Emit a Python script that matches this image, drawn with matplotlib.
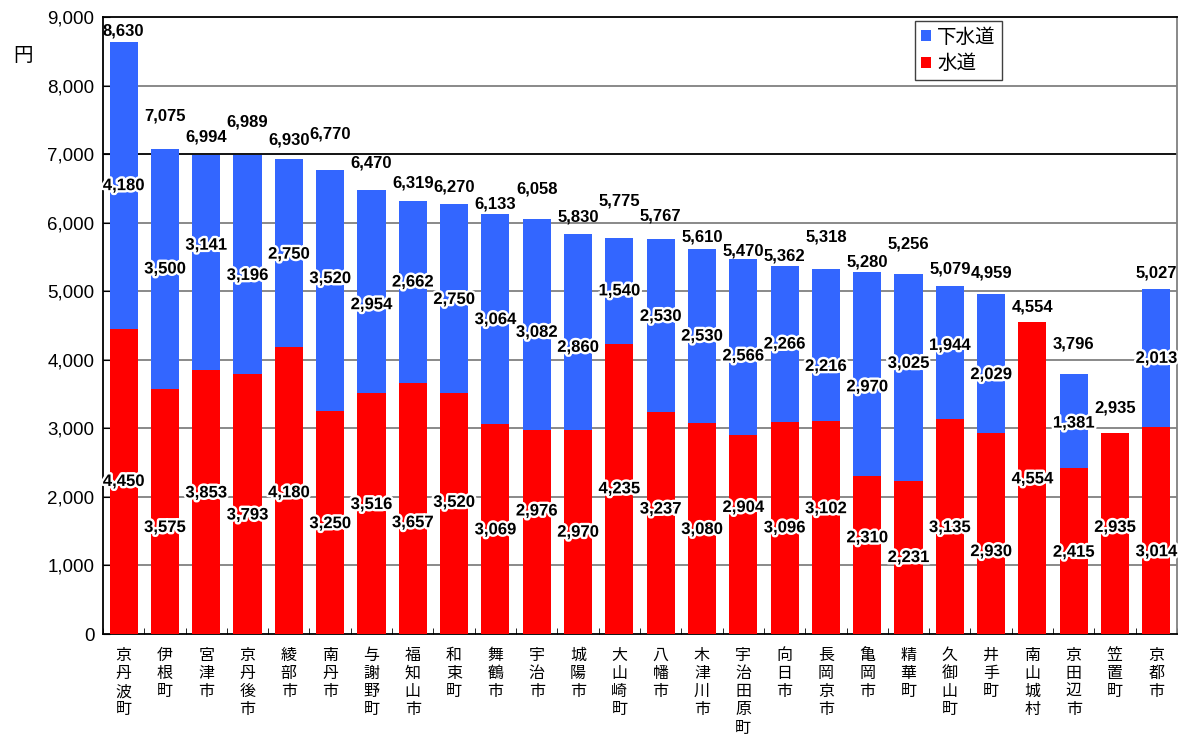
import matplotlib
matplotlib.use("Agg")
import matplotlib.pyplot as plt
import matplotlib.patheffects as pe
import numpy as np

plt.rcParams["font.family"] = ["Liberation Sans", "Noto Sans CJK JP"]

# 市町村名と料金（円）
towns = ["京丹波町", "伊根町", "宮津市", "京丹後市", "綾部市", "南丹市", "与謝野町",
         "福知山市", "和束町", "舞鶴市", "宇治市", "城陽市", "大山崎町", "八幡市",
         "木津川市", "宇治田原町", "向日市", "長岡京市", "亀岡市", "精華町",
         "久御山町", "井手町", "南山城村", "京田辺市", "笠置町", "京都市"]
water = [4450, 3575, 3853, 3793, 4180, 3250, 3516, 3657, 3520, 3069, 2976, 2970, 4235,
         3237, 3080, 2904, 3096, 3102, 2310, 2231, 3135, 2930, 4554, 2415, 2935, 3014]
sewer = [4180, 3500, 3141, 3196, 2750, 3520, 2954, 2662, 2750, 3064, 3082, 2860, 1540,
         2530, 2530, 2566, 2266, 2216, 2970, 3025, 1944, 2029, 0, 1381, 0, 2013]

# ラベルの上下ずらし（ピクセル）
water_shift = [0, -16, 9, -11, -2, -1, 9, -14, 11, -1, 21, 0, 0, 14, -1, 27, 0, 19, 17,
               0, -1, -18, -1, -1, 6, -21]
sewer_shift = [0, 0, 17, -11, -1, 12, -13, 10, -1, -1, -8, -15, 0, 9, 0, -9, 0, -21, -13,
               14, 7, -11, 0, -2, 0, 0]
total_gap = [11, 33, 18, 33, 19, 36, 27, 18, 17, 10, 30, 17, 37, 23, 12, 8, 10, 32, 10,
             30, 17, 21, 15, 30, 25, 16]

water = np.array(water)
sewer = np.array(sewer)
total = water + sewer
x = np.arange(len(towns))

fig = plt.figure(figsize=(11.86, 7.35), dpi=100)
ax = fig.add_axes([0.0868, 0.1374, 0.9056, 0.8395])

ax.bar(x, water, width=0.68, color="#ff0000", label="水道", zorder=3)
ax.bar(x, sewer, width=0.68, bottom=water, color="#3366ff", label="下水道", zorder=3)

ax.set_xlim(-0.5, len(towns) - 0.5)
ax.set_ylim(0, 9000)
ax.set_yticks(range(0, 9001, 1000))
ax.set_yticklabels([f"{v:,}" for v in range(0, 9001, 1000)], fontsize=13.5)
ax.tick_params(axis="y", direction="in", length=5, pad=6)

# 縦書きの市町村名
ax.set_xticks(x)
ax.set_xticklabels(["\n".join(t) for t in towns], fontsize=11.5,
                   family="Noto Sans CJK JP", va="top", linespacing=1.1)
ax.tick_params(axis="x", which="major", length=0, pad=9)
ax.set_xticks(np.arange(-0.5, len(towns), 1.0), minor=True)
ax.tick_params(axis="x", which="minor", direction="in", length=4)

for v in range(1000, 9000, 1000):
    ax.axhline(v, color="black" if v == 7000 else "#808080", linewidth=1.3, zorder=1)

for s in ["left", "bottom", "top"]:
    ax.spines[s].set_color("black")
    ax.spines[s].set_linewidth(1.3)
ax.spines["right"].set_color("#808080")
ax.spines["right"].set_linewidth(1.3)

halo = [pe.withStroke(linewidth=3.5, foreground="white")]
for i in range(len(towns)):
    ax.annotate(f"{water[i]:,}", (x[i], water[i] / 2), xytext=(0, water_shift[i]),
                textcoords="offset pixels", ha="center", va="center", fontsize=12,
                fontweight="bold", path_effects=halo, zorder=5)
    if sewer[i] > 0:
        ax.annotate(f"{sewer[i]:,}", (x[i], water[i] + sewer[i] / 2),
                    xytext=(0, sewer_shift[i]), textcoords="offset pixels",
                    ha="center", va="center", fontsize=12, fontweight="bold",
                    path_effects=halo, zorder=5)
    ax.annotate(f"{total[i]:,}", (x[i], total[i]), xytext=(0, total_gap[i]),
                textcoords="offset pixels", ha="center", va="center", fontsize=12,
                fontweight="bold", zorder=5)

fig.text(0.011, 0.925, "円", fontsize=14, family="Noto Sans CJK JP", va="center")

handles, labels = ax.get_legend_handles_labels()
leg = ax.legend(handles[::-1], labels[::-1], loc="upper left", borderaxespad=0,
                bbox_to_anchor=(0.756, 0.994), prop={"family": "Noto Sans CJK JP", "size": 14},
                handlelength=0.55, handleheight=0.55, handletextpad=0.3,
                borderpad=0.3, labelspacing=0.3, fancybox=False, framealpha=1,
                edgecolor="#404040")
leg.get_frame().set_linewidth(1.0)

fig.savefig("out.png", dpi=100)
